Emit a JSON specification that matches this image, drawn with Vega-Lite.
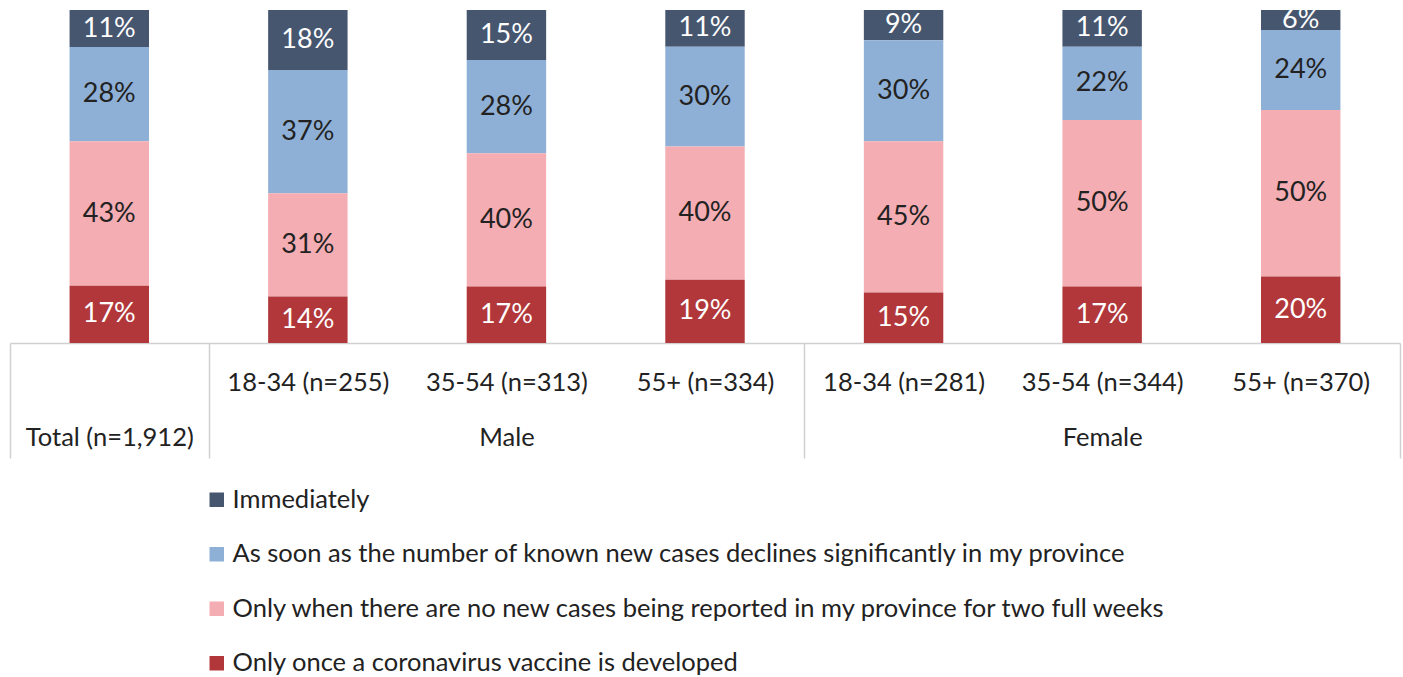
{
  "$schema": "https://vega.github.io/schema/vega-lite/v6.json",
  "width": 1390,
  "height": 333,
  "autosize": {"type": "none"},
  "padding": {"left": 10, "top": 10, "right": 3, "bottom": 334},
  "background": "white",
  "config": {"view": {"stroke": null}, "font": "Lato"},
  "data": {
    "values": [
      {"group": "Total (n=1,912)", "response": "Immediately", "rank": 4, "value": 0.11},
      {"group": "Total (n=1,912)", "response": "As soon as the number of known new cases declines significantly in my province", "rank": 3, "value": 0.28},
      {"group": "Total (n=1,912)", "response": "Only when there are no new cases being reported in my province for two full weeks", "rank": 2, "value": 0.43},
      {"group": "Total (n=1,912)", "response": "Only once a coronavirus vaccine is developed", "rank": 1, "value": 0.17},
      {"group": "18-34 (n=255)", "response": "Immediately", "rank": 4, "value": 0.18},
      {"group": "18-34 (n=255)", "response": "As soon as the number of known new cases declines significantly in my province", "rank": 3, "value": 0.37},
      {"group": "18-34 (n=255)", "response": "Only when there are no new cases being reported in my province for two full weeks", "rank": 2, "value": 0.31},
      {"group": "18-34 (n=255)", "response": "Only once a coronavirus vaccine is developed", "rank": 1, "value": 0.14},
      {"group": "35-54 (n=313)", "response": "Immediately", "rank": 4, "value": 0.15},
      {"group": "35-54 (n=313)", "response": "As soon as the number of known new cases declines significantly in my province", "rank": 3, "value": 0.28},
      {"group": "35-54 (n=313)", "response": "Only when there are no new cases being reported in my province for two full weeks", "rank": 2, "value": 0.40},
      {"group": "35-54 (n=313)", "response": "Only once a coronavirus vaccine is developed", "rank": 1, "value": 0.17},
      {"group": "55+ (n=334)", "response": "Immediately", "rank": 4, "value": 0.11},
      {"group": "55+ (n=334)", "response": "As soon as the number of known new cases declines significantly in my province", "rank": 3, "value": 0.30},
      {"group": "55+ (n=334)", "response": "Only when there are no new cases being reported in my province for two full weeks", "rank": 2, "value": 0.40},
      {"group": "55+ (n=334)", "response": "Only once a coronavirus vaccine is developed", "rank": 1, "value": 0.19},
      {"group": "18-34 (n=281)", "response": "Immediately", "rank": 4, "value": 0.09},
      {"group": "18-34 (n=281)", "response": "As soon as the number of known new cases declines significantly in my province", "rank": 3, "value": 0.30},
      {"group": "18-34 (n=281)", "response": "Only when there are no new cases being reported in my province for two full weeks", "rank": 2, "value": 0.45},
      {"group": "18-34 (n=281)", "response": "Only once a coronavirus vaccine is developed", "rank": 1, "value": 0.15},
      {"group": "35-54 (n=344)", "response": "Immediately", "rank": 4, "value": 0.11},
      {"group": "35-54 (n=344)", "response": "As soon as the number of known new cases declines significantly in my province", "rank": 3, "value": 0.22},
      {"group": "35-54 (n=344)", "response": "Only when there are no new cases being reported in my province for two full weeks", "rank": 2, "value": 0.50},
      {"group": "35-54 (n=344)", "response": "Only once a coronavirus vaccine is developed", "rank": 1, "value": 0.17},
      {"group": "55+ (n=370)", "response": "Immediately", "rank": 4, "value": 0.06},
      {"group": "55+ (n=370)", "response": "As soon as the number of known new cases declines significantly in my province", "rank": 3, "value": 0.24},
      {"group": "55+ (n=370)", "response": "Only when there are no new cases being reported in my province for two full weeks", "rank": 2, "value": 0.50},
      {"group": "55+ (n=370)", "response": "Only once a coronavirus vaccine is developed", "rank": 1, "value": 0.20}
    ]
  },
  "encoding": {
    "x": {
      "field": "group",
      "type": "nominal",
      "sort": null,
      "scale": {"paddingInner": 0, "paddingOuter": 0},
      "axis": {
        "title": null,
        "labelAngle": 0,
        "labelFont": "Lato",
        "labelFontSize": 25.5,
        "labelColor": "#222222",
        "labelLimit": 400,
        "labelLineHeight": 55,
        "labelBaseline": "top",
        "labelPadding": -88,
        "labelOverlap": false,
        "labelFlush": false,
        "labelBound": false,
        "domainColor": "#d0d0d0",
        "domainWidth": 1.5,
        "tickBand": "extent",
        "tickSize": 115,
        "tickColor": "#d0d0d0",
        "tickWidth": 1.5,
        "tickOpacity": {
          "condition": {
            "test": "!isValid(datum.value) || datum.value == 'Total (n=1,912)' || datum.value == '55+ (n=334)' || datum.value == '55+ (n=370)'",
            "value": 1
          },
          "value": 0
        },
        "labelExpr": "datum.value == '35-54 (n=313)' ? [datum.label, 'Male'] : datum.value == '35-54 (n=344)' ? [datum.label, 'Female'] : datum.value == 'Total (n=1,912)' ? ['', datum.label] : datum.label"
      }
    },
    "y": {
      "field": "value",
      "type": "quantitative",
      "stack": "normalize",
      "axis": null
    },
    "order": {"field": "rank", "type": "quantitative"}
  },
  "layer": [
    {
      "mark": {"type": "bar", "width": {"band": 0.4}},
      "encoding": {
        "color": {
          "field": "response",
          "type": "nominal",
          "scale": {
            "domain": [
              "Immediately",
              "As soon as the number of known new cases declines significantly in my province",
              "Only when there are no new cases being reported in my province for two full weeks",
              "Only once a coronavirus vaccine is developed"
            ],
            "range": ["#46566F", "#8FB0D6", "#F4ADB2", "#B1373A"]
          },
          "legend": {
            "title": null,
            "orient": "none",
            "legendX": 194,
            "legendY": 477,
            "direction": "vertical",
            "symbolType": "square",
            "symbolSize": 210,
            "symbolStrokeWidth": 0,
            "labelFont": "Lato",
            "labelFontSize": 25.5,
            "labelColor": "#222222",
            "labelLimit": 1300,
            "rowPadding": 27.5,
            "labelOffset": 3,
            "padding": 0
          }
        }
      }
    },
    {
      "mark": {"type": "text", "font": "Lato", "fontSize": 27, "align": "center", "baseline": "middle"},
      "encoding": {
        "y": {"field": "value", "type": "quantitative", "stack": "normalize", "bandPosition": 0.5},
        "text": {"field": "value", "type": "quantitative", "format": ".0%"},
        "color": {
          "condition": {"test": "datum.rank == 1 || datum.rank == 4", "value": "#ffffff"},
          "value": "#222222"
        }
      }
    }
  ]
}
